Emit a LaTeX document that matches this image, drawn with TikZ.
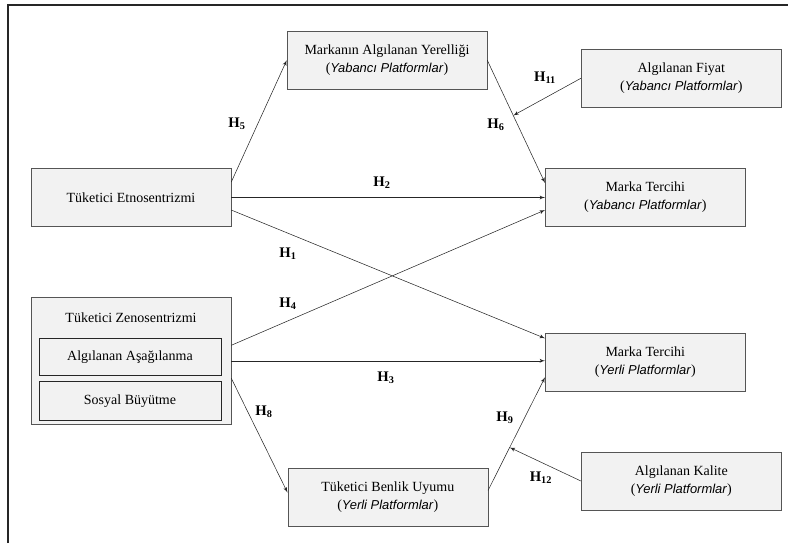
\documentclass[tikz,border=0pt]{standalone}
\usepackage{fontspec}
\setmainfont{Liberation Serif}
\newfontfamily\platfont{Liberation Sans}
\usepackage{tikz}
\usetikzlibrary{shapes,arrows}
\definecolor{boxgray}{HTML}{F2F2F2}
\definecolor{edgegray}{HTML}{555555}
\newcommand{\plat}[1]{({\fontsize{9.7}{13.5}\selectfont\textit{\platfont #1}})}

\begin{document}
\begin{tikzpicture}[x=0.75pt,y=-0.75pt,>=latex',font=\fontsize{10.5}{13.5}\selectfont]
\tikzstyle{var}=[draw=edgegray, fill=boxgray, minimum width=150pt,
minimum height=43.5pt, align=center, inner sep=2pt]
\tikzstyle{sub}=[draw=black!85, fill=boxgray, minimum width=136.5pt,
minimum height=27.75pt, inner sep=0pt]
\tikzstyle{hyp}=[font=\fontsize{11}{13}\selectfont\bfseries, inner sep=0pt]
\tikzstyle{link}=[->, draw=black!85, thin]

\useasboundingbox (0,0) rectangle (788,543);
\draw [black!85, line width=0.8pt] (8,543) -- (8,5) -- (788,5);

\node (etno) [var] at (131,197.5) {Tüketici Etnosentrizmi};
\path (etno.east)+(414,0) node (mtyab) [var] {Marka Tercihi\\\plat{Yabancı Platformlar}};
\path (etno.north)+(256,-108) node (yerel) [var] {Markanın Algılanan Yerelliği\\\plat{Yabancı Platformlar}};
\path (yerel.east)+(194,18) node (fiyat) [var] {Algılanan Fiyat\\\plat{Yabancı Platformlar}};
\path (etno.south)+(0,134) node (zeno) [var, minimum height=95.25pt] {};
\path (zeno.north)+(0,21) node (zenot) {Tüketici Zenosentrizmi};
\path (zeno.center)+(-1,-4) node (asag) [sub] {Algılanan Aşağılanma};
\path (asag.south)+(0,25.5) node (sosyal) [sub, minimum height=29.25pt] {Sosyal Büyütme};
\path (mtyab.south)+(0,135) node (mtyer) [var] {Marka Tercihi\\\plat{Yerli Platformlar}};
\path (zeno.south east)+(156.5,72.5) node (benlik) [var] {Tüketici Benlik Uyumu\\\plat{Yerli Platformlar}};
\path (mtyer.south)+(36,90) node (kalite) [var] {Algılanan Kalite\\\plat{Yerli Platformlar}};

% hypotheses
\draw [link] ([yshift=11.6pt]etno.east) -- (yerel.west);
\draw [link] (etno.east) -- (mtyab.west);
\draw [link] ([yshift=-9.4pt]etno.east) -- ([yshift=17.6pt]mtyer.west);
\draw [link] ([yshift=11.6pt]zeno.east) -- ([yshift=-9.4pt]mtyab.west);
\draw [link] (zeno.east) -- (zeno.east -| mtyer.west);
\draw [link] ([yshift=-13.1pt]zeno.east) -- ([yshift=3.4pt]benlik.west);
\draw [link] (yerel.east) -- coordinate[pos=0.45] (h6m) ([yshift=10.9pt]mtyab.west);
\draw [link] ([yshift=4.9pt]benlik.east) -- coordinate[pos=0.38] (h9m) ([yshift=-11.6pt]mtyer.west);
\draw [link] (fiyat.west) -- (h6m);
\draw [link] (kalite.west) -- (h9m);

\node (h5) [hyp] at (237,124) {H\textsubscript{5}};
\node (h2) [hyp] at (382,183) {H\textsubscript{2}};
\node (h1) [hyp] at (288,254) {H\textsubscript{1}};
\node (h4) [hyp] at (288,304) {H\textsubscript{4}};
\node (h3) [hyp] at (386,378) {H\textsubscript{3}};
\node (h8) [hyp] at (264,412) {H\textsubscript{8}};
\node (h9) [hyp] at (505,418) {H\textsubscript{9}};
\node (h6) [hyp] at (496,125) {H\textsubscript{6}};
\node (h11) [hyp] at (545,78) {H\textsubscript{11}};
\node (h12) [hyp] at (541,478) {H\textsubscript{12}};
\end{tikzpicture}
\end{document}
